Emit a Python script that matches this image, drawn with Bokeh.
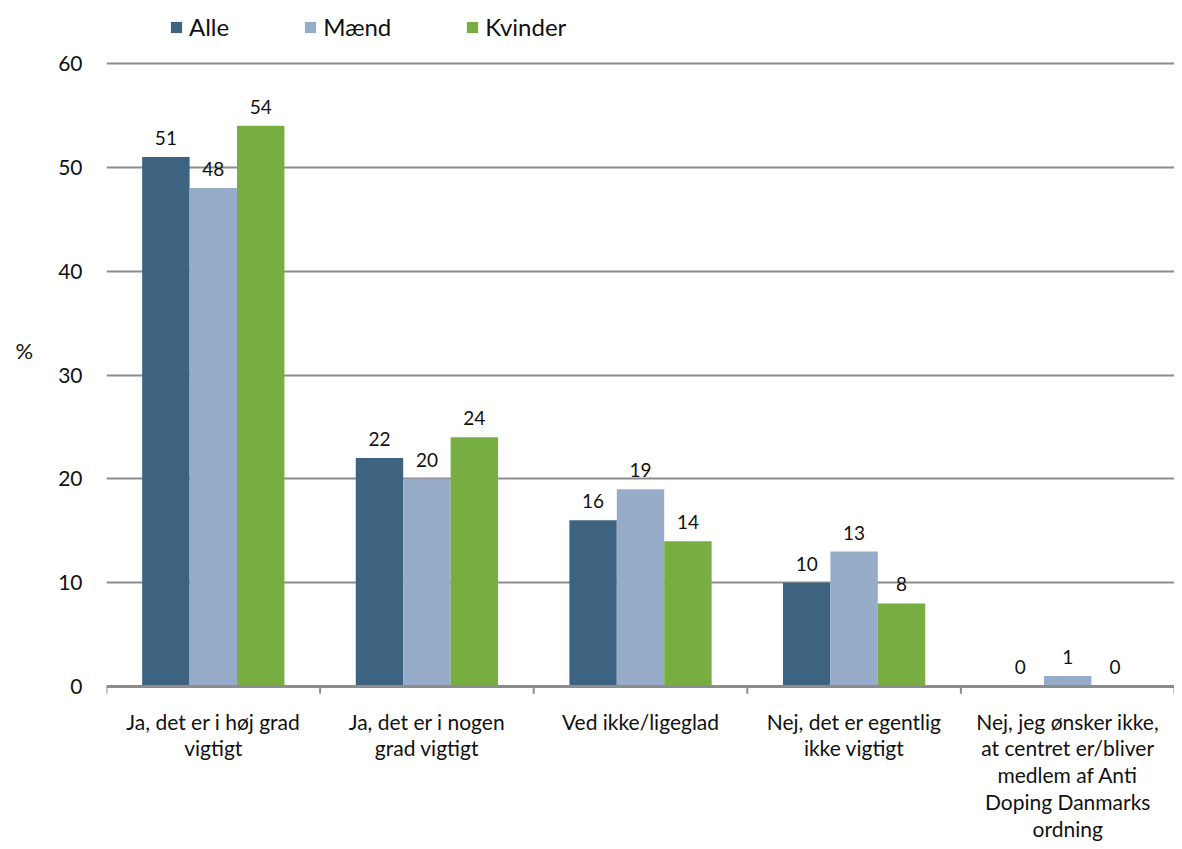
from bokeh.plotting import figure
from bokeh.layouts import column
from bokeh.models import (ColumnDataSource, FixedTicker, LabelSet, Legend, LegendItem, Span)
from bokeh.core.properties import value
from bokeh.embed import file_html
from bokeh.resources import INLINE

categories = [
    "Ja, det er i høj grad\nvigtigt",
    "Ja, det er i nogen\ngrad vigtigt",
    "Ved ikke/ligeglad",
    "Nej, det er egentlig\nikke vigtigt",
    "Nej, jeg ønsker ikke,\nat centret er/bliver\nmedlem af Anti\nDoping Danmarks\nordning",
]
series_names = ["Alle", "Mænd", "Kvinder"]
alle = [51, 22, 16, 10, 0]
maend = [48, 20, 19, 13, 1]
kvinder = [54, 24, 14, 8, 0]
y_ticks = [0, 10, 20, 30, 40, 50, 60]
y_label = "%"

colors = ["#3E6380", "#96ACC9", "#77AE41"]
GRAY = "#8c8c8c"
FONT = "Lato"
TXT = "#111111"
bar_w = 0.222
offsets = [-bar_w, 0.0, bar_w]
n = len(categories)
centers = [i + 0.5 for i in range(n)]
boundaries = list(range(n + 1))

W = 1174
H1 = 700
H2 = 141

p = figure(width=W, height=H1, output_backend="svg", toolbar_location=None,
           x_range=(0, n), y_range=(-1.35, 66.07), x_axis_location=None,
           min_border_left=106, min_border_right=0, min_border_top=0,
           min_border_bottom=0)
p.outline_line_color = None
p.background_fill_color = "white"
p.border_fill_color = "white"

renderers = []
for vals, off, col in zip([alle, maend, kvinder], offsets, colors):
    src = ColumnDataSource(dict(
        x=[c + off for c in centers], top=vals, lab=[str(v) for v in vals]))
    r = p.vbar(x="x", top="top", width=bar_w, source=src, fill_color=col,
               line_color=None)
    renderers.append(r)
    p.add_layout(LabelSet(x="x", y="top", text="lab", source=src, y_offset=12,
                          text_align="center", text_baseline="bottom",
                          text_font=value(FONT), text_font_size="19px",
                          text_color=TXT))

# grid
p.xgrid.grid_line_color = None
p.ygrid.ticker = FixedTicker(ticks=y_ticks)
p.ygrid.grid_line_color = GRAY
p.ygrid.grid_line_width = 2

# baseline axis and category boundary ticks
p.add_layout(Span(location=0, dimension="width", line_color=GRAY, line_width=3))
p.segment(x0=boundaries, y0=[0] * len(boundaries), x1=boundaries,
          y1=[-0.7] * len(boundaries), line_color=GRAY, line_width=2)

# y axis
p.yaxis.ticker = FixedTicker(ticks=y_ticks)
p.yaxis.axis_line_color = None
p.yaxis.major_tick_line_color = None
p.yaxis.major_tick_out = 0
p.yaxis.major_tick_in = 0
p.yaxis.minor_tick_line_color = None
p.yaxis.major_label_text_font = FONT
p.yaxis.major_label_text_font_size = "21px"
p.yaxis.major_label_text_color = TXT
p.yaxis.major_label_standoff = 24
p.yaxis.axis_label = y_label
p.yaxis.axis_label_orientation = "horizontal"
p.yaxis.axis_label_text_font = FONT
p.yaxis.axis_label_text_font_style = "normal"
p.yaxis.axis_label_text_font_size = "22px"
p.yaxis.axis_label_text_color = TXT
p.yaxis.axis_label_text_baseline = "bottom"
p.yaxis.axis_label_standoff = 22

legend = Legend(items=[LegendItem(label=s, renderers=[r]) for s, r in zip(series_names, renderers)],
                orientation="horizontal", location=(63, 659),
                label_text_font=FONT, label_text_font_size="24px",
                label_text_color=TXT, label_height=29,
                glyph_width=14, glyph_height=14, label_standoff=6, spacing=74,
                padding=0, margin=0, border_line_color=None,
                background_fill_alpha=0)
p.add_layout(legend, "center")

# category labels figure (shares the x range)
p2 = figure(width=W, height=H2, output_backend="svg", toolbar_location=None,
            x_range=p.x_range, y_range=(-H2, 0), x_axis_location=None,
            y_axis_location=None, min_border_left=106, min_border_right=0,
            min_border_top=0, min_border_bottom=0)
p2.outline_line_color = None
p2.grid.visible = False
p2.text(x=centers, y=[-8] * n, text=categories, text_align="center",
        text_baseline="top", text_font=value(FONT), text_font_size="21px",
        text_line_height=1.07, text_color=TXT)

layout = column(p, p2, spacing=0)
open("out.html", "w").write(file_html(layout, INLINE))
